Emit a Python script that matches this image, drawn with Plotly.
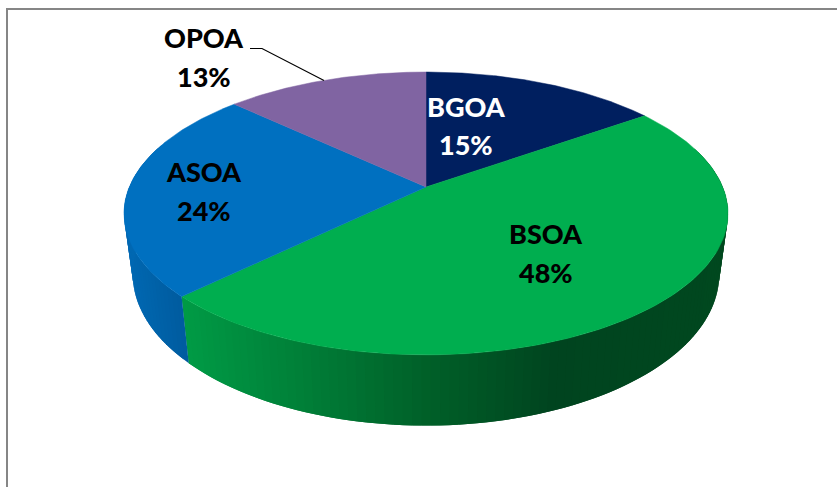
import numpy as np
import plotly.graph_objects as go

# Data
categories = ["BGOA", "BSOA", "ASOA", "OPOA"]
values = [15.2, 47.5, 24.3, 13.0]
percent_labels = ["15%", "48%", "24%", "13%"]

# Styles
top_colors = ["#001F5F", "#00AE4F", "#0070C0", "#8064A2"]
side_stops = {
    "BGOA": [(0, "#001F5F"), (837, "#001F5F")],
    "BSOA": [(185, "#009A45"), (300, "#007F38"), (430, "#005F28"), (555, "#00441F"), (730, "#00481F")],
    "ASOA": [(125, "#0068B2"), (190, "#005A9C")],
    "OPOA": [(0, "#6A5388"), (837, "#6A5388")],
}
label_colors = ["white", "black", "black", "black"]
label_xy = [(466, 106, 144), (546, 233, 272), (204, 171, 210), (204, 37, 76)]

W, H = 837, 487
CX, APEX_Y = 426.0, 187.0
C = 0.187
A = -101.5
D = 296.7
SX, KY, BASE_Y = 0.971, 1.07, 246.0


def top_xy(theta):
    u, v = np.sin(theta), np.cos(theta)
    den = 1 + C * v
    return CX + D * u / den, (A * v + APEX_Y) / den


def bottom_xy(theta):
    x, y = top_xy(theta)
    return CX + SX * (x - CX), BASE_Y + KY * (y - APEX_Y)


def hex2rgb(h):
    return np.array([int(h[i:i + 2], 16) for i in (1, 3, 5)], dtype=float)


def grad(stops, x):
    xs = [s[0] for s in stops]
    cols = np.array([hex2rgb(s[1]) for s in stops])
    rgb = [np.interp(x, xs, cols[:, i]) for i in range(3)]
    return "rgb(%d,%d,%d)" % tuple(int(round(c)) for c in rgb)


fig = go.Figure()

fracs = np.array(values) / sum(values)
edges = np.concatenate([[0], np.cumsum(fracs)]) * 2 * np.pi

# Side walls (visible front part only); each strip overlaps the next so no seams appear
for i, name in enumerate(categories):
    a0, a1 = edges[i], edges[i + 1]
    n = max(2, int(np.degrees(a1 - a0) / 1.5))
    th = np.linspace(a0, a1, n + 1)
    for k in range(n):
        t0, t1 = th[k], th[k + 1]
        if np.cos((t0 + t1) / 2) > 0.3:
            continue
        t_end = th[min(k + 2, n)]
        ts = np.linspace(t0, t_end, 4)
        xt, yt = top_xy(ts)
        xb, yb = bottom_xy(ts[::-1])
        col = grad(side_stops[name], float(top_xy((t0 + t1) / 2)[0]))
        fig.add_trace(go.Scatter(
            x=np.concatenate([xt, xb, xt[:1]]), y=np.concatenate([yt, yb, yt[:1]]),
            mode="lines", fill="toself", fillcolor=col,
            line=dict(width=0), hoverinfo="skip", showlegend=False))

# Top faces
for i, name in enumerate(categories):
    th = np.linspace(edges[i], edges[i + 1], 120)
    x, y = top_xy(th)
    fig.add_trace(go.Scatter(
        x=np.concatenate([[CX], x, [CX]]), y=np.concatenate([[APEX_Y], y, [APEX_Y]]),
        mode="lines", fill="toself", fillcolor=top_colors[i],
        line=dict(color=top_colors[i], width=0.5), name=name, showlegend=False))

# Leader line for OPOA
fig.add_trace(go.Scatter(x=[250, 262, 324], y=[48.5, 48.5, 80.5], mode="lines",
                         line=dict(color="black", width=1.2), hoverinfo="skip", showlegend=False))

# Labels
annotations = []
for name, pct, col, (lx, y1, y2) in zip(categories, percent_labels, label_colors, label_xy):
    for txt, ly in ((name, y1), (pct, y2)):
        annotations.append(dict(x=lx, y=ly, text=txt, showarrow=False, xref="x", yref="y",
                                font=dict(family="Lato", size=27, color=col, weight=900)))

fig.update_layout(
    width=W, height=H, autosize=False,
    margin=dict(l=0, r=0, t=0, b=0),
    paper_bgcolor="white", plot_bgcolor="white",
    xaxis=dict(range=[0, W], visible=False, fixedrange=True),
    yaxis=dict(range=[H, 0], visible=False, fixedrange=True),
    annotations=annotations,
    shapes=[dict(type="path", path=f"M 7 {H} L 7 9 L {W} 9", xref="x", yref="y",
                 line=dict(color="#868686", width=2))],
)

fig.write_html("out.html", config={"displayModeBar": False},
               post_script="document.body.style.margin='0';document.body.style.overflow='hidden';")
